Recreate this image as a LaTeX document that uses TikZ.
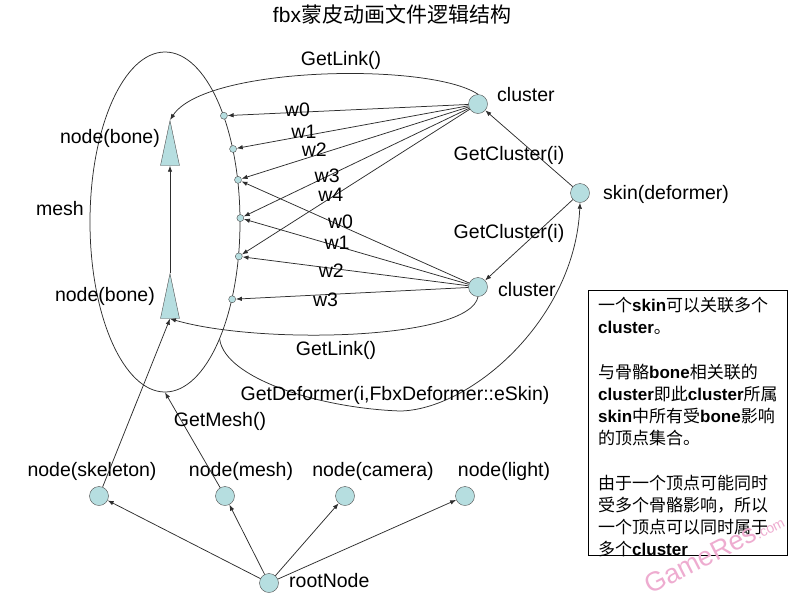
\documentclass[tikz,border=0pt]{standalone}
\usepackage{fontspec}
\setmainfont{Liberation Sans}
\newfontfamily\cjk{Noto Sans CJK SC}
\usetikzlibrary{positioning,shapes.geometric,arrows.meta}

\definecolor{ballfill}{RGB}{182,222,224}
\definecolor{edgegray}{RGB}{45,45,45}
\definecolor{markpink}{RGB}{238,172,208}
\newcommand{\zh}[1]{{\cjk #1}}

\begin{document}
\begin{tikzpicture}[x=1pt, y=-1pt, >={Latex[length=6pt,width=4.5pt]},
    ball/.style={circle, draw=edgegray!85, fill=ballfill, minimum size=19pt, inner sep=0pt},
    vtx/.style={circle, draw=edgegray!85, fill=ballfill, minimum size=7pt, inner sep=0pt},
    bone/.style={isosceles triangle, shape border rotate=90, isosceles triangle stretches,
        draw=edgegray!85, fill=ballfill, minimum height=45pt, minimum width=19pt, inner sep=0pt, anchor=apex},
    txt/.style={font=\fontsize{19.5}{23}\selectfont, inner sep=1pt},
    link/.style={->, draw=edgegray, line width=0.75pt}]
    \useasboundingbox (0,0) rectangle (800,598);

    % 1. Title
    \node[txt, font=\fontsize{21}{24}\selectfont] (title) at (392,14) {fbx\zh{蒙皮动画文件逻辑结构}};

    % 2. Mesh with its vertices and the two bones
    \node[ellipse, draw=edgegray, line width=0.75pt, minimum width=150pt, minimum height=340pt, inner sep=0pt] (mesh) at (165,222) {};
    \node[txt] (meshlbl) at (60,209) {mesh};
    \foreach \a [count=\i from 0] in {61,47,30,3,-25,-49}
        \node[vtx] (v\i) at (mesh.\a) {};

    \node[bone] (boneA) at (170,120) {};
    \node[bone] (boneB) at (170,273) {};
    \node[txt, anchor=east] (boneAlbl) at (161,138) {node(bone)};
    \node[txt, anchor=east] (boneBlbl) at (156,296) {node(bone)};
    \draw[link] (boneB.apex) -- (boneA.lower side);

    % 3. Clusters and skin
    \node[ball] (cA) at (478,104) {};
    \node[ball] (cB) at (478,287) {};
    \node[ball] (skin) at (580,193) {};
    \node[txt, anchor=west] (cAlbl) at (496,95) {cluster};
    \node[txt, anchor=west] (cBlbl) at (497,290) {cluster};
    \node[txt, anchor=west] (skinlbl) at (602,194) {skin(deformer)};

    \draw[link] (skin) -- (cA);
    \draw[link] (skin) -- (cB);
    \node[txt] (gcA) at (509,155) {GetCluster(i)};
    \node[txt] (gcB) at (509,233) {GetCluster(i)};

    % 4. Weights from cluster to vertices
    \foreach \v/\w/\p/\s in {0/w0/.71/3, 1/w1/.71/4, 2/w2/.68/6, 3/w3/.63/1, 4/w4/.61/3}
        \draw[link] (cA) -- node[txt, pos=\p, yshift=\s] {\w} (v\v);
    \foreach \v/\w/\p/\s in {2/w0/.565/4, 3/w1/.586/3, 4/w2/.607/-2, 5/w3/.614/-5}
        \draw[link] (cB) -- node[txt, pos=\p, yshift=\s] {\w} (v\v);

    % 5. GetLink() and GetDeformer() curves
    \draw[link] (cA.north) .. controls (430,62) and (205,66) .. (boneA.apex);
    \node[txt] (glA) at (341,60) {GetLink()};
    \draw[link] (cB.south) .. controls (470,340) and (260,345) .. (boneB.lower side);
    \node[txt] (glB) at (336,350) {GetLink()};
    \draw[link] (mesh.-65) .. controls (225,378) and (318,408) .. (400,411)
        .. controls (470,410) and (575,320) .. (skin.south);
    \node[txt] (gdef) at (395,395) {GetDeformer(i,FbxDeformer::eSkin)};

    % 6. Scene nodes under the root
    \node[ball] (skel) at (99,496) {};
    \node[ball] (meshnd) at (225,496) {};
    \node[ball] (cam) at (345,496) {};
    \node[ball] (light) at (465,496) {};
    \node[ball] (root) at (269,583) {};
    \node[txt] (skellbl) at (92,471) {node(skeleton)};
    \node[txt] (meshndlbl) at (241,471) {node(mesh)};
    \node[txt] (camlbl) at (373,471) {node(camera)};
    \node[txt] (lightlbl) at (504,471) {node(light)};
    \node[txt, anchor=west] (rootlbl) at (288,581) {rootNode};
    \foreach \n in {skel,meshnd,cam,light}
        \draw[link] (root) -- (\n);
    \draw[link] (skel) -- (boneB.lower side);
    \draw[link] (meshnd) -- node[txt, pos=.7, anchor=west, xshift=-9] {GetMesh()} (mesh.south);

    % 7. Note box
    \node[draw=black, line width=0.75pt, minimum width=199pt, minimum height=265pt, inner sep=0pt, anchor=north west] (note) at (588,290) {};
    \node[anchor=north west, align=left, inner sep=0pt, font=\fontsize{17}{22.2}\selectfont] (notetxt) at (598,297)
        {\zh{一个}\textbf{skin}\zh{可以关联多个}\\
         \textbf{cluster}\zh{。}\\[22.2pt]
         \zh{与骨骼}\textbf{bone}\zh{相关联的}\\
         \textbf{cluster}\zh{即此}\textbf{cluster}\zh{所属}\\
         \textbf{skin}\zh{中所有受}\textbf{bone}\zh{影响}\\
         \zh{的顶点集合。}\\[22.2pt]
         \zh{由于一个顶点可能同时}\\
         \zh{受多个骨骼影响，所以}\\
         \zh{一个顶点可以同时属于}\\
         \zh{多个}\textbf{cluster}};

    % 8. Watermark
    \node[rotate=27, text=markpink, font=\fontsize{27}{27}\selectfont] (mark) at (714,552) {GameRes\fontsize{14}{14}\selectfont.com};
\end{tikzpicture}
\end{document}
